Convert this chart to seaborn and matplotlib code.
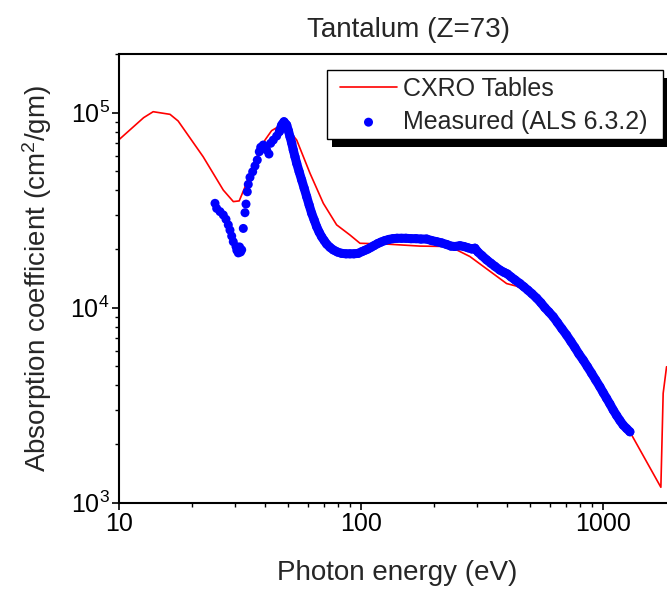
import matplotlib
matplotlib.use("Agg")
import matplotlib.pyplot as plt
import matplotlib.patheffects as pe
import matplotlib.patches as mpatches
import matplotlib.ticker as mticker
import pandas as pd
import seaborn as sns

# CXRO (Henke) table values
cxro_energy = [10.0, 12.6, 13.8, 16.2, 17.5, 22.2, 26.9, 29.6, 31.3, 33.1,
               37.0, 40.0, 42.6, 45.0, 46.9, 50.8, 54.1, 61.4, 69.7, 79.1,
               89.8, 98.8, 127.4, 174.8, 232.5, 281.3, 398.9, 438.7, 482.6,
               621.6, 826.7, 1100.0, 1289.6, 1731.6, 1770.0, 1828.0]
cxro_mu = [7.30e4, 9.43e4, 1.012e5, 9.81e4, 9.07e4, 5.95e4, 4.01e4, 3.50e4, 3.53e4, 4.17e4,
           5.95e4, 7.24e4, 8.09e4, 8.42e4, 8.42e4, 7.99e4, 7.24e4, 4.89e4, 3.43e4, 2.66e4,
           2.36e4, 2.14e4, 2.12e4, 2.07e4, 2.06e4, 1.83e4, 1.33e4, 1.29e4, 1.21e4,
           8.96e3, 5.39e3, 2.99e3, 2.31e3, 1.20e3, 3.64e3, 4.98e3]

# measured points (ALS beamline 6.3.2)
meas_energy = [24.86, 25.26, 26.07, 26.90, 27.60, 28.21, 28.67, 29.14, 29.58, 30.35,
               30.6, 31.03, 31.4, 31.7, 32.05, 32.54, 33.07, 33.39, 33.80, 34.12,
               34.68, 35.58, 36.37, 37.17, 37.89, 38.40, 39.36, 40.65, 41.55, 42.23,
               43.29, 44.71, 45.84, 46.90, 47.93, 49.18, 50.03, 50.75, 51.58, 52.36,
               53.21, 54.09, 55.38, 56.71, 58.08, 59.48, 60.91, 62.37, 63.88, 65.43,
               66.99, 68.61, 70.26, 71.94, 74.25, 76.62, 79.74, 82.99, 86.46, 89.8,
               93.29, 97.18, 100.7, 103.6, 106.6, 109.7, 112.8, 116.7, 120.6, 125.3,
               130.2, 135.2, 140.5, 146.6, 153.0, 160.5, 168.3, 176.5, 186.3, 195.4,
               205.0, 214.9, 225.4, 234.8, 243.9, 255.8, 265.7, 276.0, 286.7, 295.0,
               303.6, 315.4, 329.8, 343.6, 356.9, 374.2, 388.8, 401.9, 415.6, 431.7,
               452.8, 470.3, 488.5, 507.5, 530.7, 552.9, 574.3, 596.6, 621.6, 646.8,
               675.1, 706.0, 735.4, 763.9, 793.6, 826.7, 860.3, 895.4, 931.1, 969.1,
               1000.0, 1032.8, 1065.8, 1100.0, 1136.5, 1172.7, 1209.9, 1249.8, 1289.6]
meas_mu = [3.43e4, 3.23e4, 3.11e4, 2.99e4, 2.84e4, 2.66e4, 2.50e4, 2.33e4, 2.18e4, 2.06e4,
           1.97e4, 1.91e4, 2.05e4, 1.93e4, 1.98e4, 2.55e4, 3.07e4, 3.40e4, 3.93e4, 4.29e4,
           4.66e4, 4.98e4, 5.33e4, 5.72e4, 6.31e4, 6.65e4, 6.83e4, 6.44e4, 6.14e4, 6.97e4,
           7.24e4, 7.59e4, 7.99e4, 8.65e4, 8.99e4, 8.65e4, 8.06e4, 7.53e4, 6.99e4, 6.44e4,
           5.95e4, 5.50e4, 4.98e4, 4.52e4, 4.10e4, 3.71e4, 3.36e4, 3.05e4, 2.82e4, 2.60e4,
           2.44e4, 2.31e4, 2.21e4, 2.12e4, 2.04e4, 1.98e4, 1.93e4, 1.90e4, 1.89e4, 1.89e4,
           1.89e4, 1.90e4, 1.94e4, 1.97e4, 2.00e4, 2.04e4, 2.08e4, 2.13e4, 2.17e4, 2.21e4,
           2.24e4, 2.26e4, 2.27e4, 2.27e4, 2.27e4, 2.26e4, 2.26e4, 2.25e4, 2.25e4, 2.21e4,
           2.18e4, 2.15e4, 2.11e4, 2.07e4, 2.06e4, 2.08e4, 2.06e4, 2.03e4, 2.00e4, 2.02e4,
           1.93e4, 1.85e4, 1.76e4, 1.69e4, 1.63e4, 1.56e4, 1.52e4, 1.49e4, 1.44e4, 1.39e4,
           1.33e4, 1.28e4, 1.23e4, 1.18e4, 1.12e4, 1.06e4, 1.00e4, 9.51e3, 8.99e3, 8.40e3,
           7.80e3, 7.24e3, 6.71e3, 6.25e3, 5.79e3, 5.39e3, 4.99e3, 4.61e3, 4.26e3, 3.93e3,
           3.67e3, 3.43e3, 3.21e3, 2.99e3, 2.80e3, 2.64e3, 2.50e3, 2.40e3, 2.31e3]

cxro = pd.DataFrame({"energy": cxro_energy, "mu": cxro_mu})
meas = pd.DataFrame({"energy": meas_energy, "mu": meas_mu})
# above ~46 eV the scan is so dense the dots merge into a solid band
dense = meas[meas["energy"] >= 45.8]

sns.set_style("ticks")
plt.rcParams["font.family"] = ["Liberation Sans", "DejaVu Sans"]
plt.rcParams["mathtext.fontset"] = "custom"
plt.rcParams["mathtext.rm"] = "Liberation Sans"
plt.rcParams["mathtext.it"] = "Liberation Sans:italic"

fig = plt.figure(figsize=(6.67, 5.89), dpi=100)
# axes run past the right edge of the canvas, like the cropped original
ax = fig.add_axes([0.1789, 0.1465, 0.8346, 0.7618])

sns.lineplot(data=cxro, x="energy", y="mu", sort=False, estimator=None,
             color="#ff0000", linewidth=1.2, label="CXRO Tables", ax=ax, zorder=2)
sns.lineplot(data=dense, x="energy", y="mu", sort=False, estimator=None,
             color="#0000ff", linewidth=6.5, solid_capstyle="round",
             solid_joinstyle="round", legend=False, ax=ax, zorder=3)
sns.scatterplot(data=meas, x="energy", y="mu", color="#0000ff", s=42,
                edgecolor="none", label="Measured (ALS 6.3.2)", ax=ax, zorder=4)

ax.set_xscale("log")
ax.set_yscale("log")
ax.set_xlim(10, 2000)
ax.set_ylim(1e3, 2e5)
ax.xaxis.set_major_formatter(mticker.FuncFormatter(lambda v, p: "{0:g}".format(v)))
ax.xaxis.set_minor_formatter(mticker.NullFormatter())
ax.yaxis.set_minor_formatter(mticker.NullFormatter())

for side in ("left", "bottom", "top"):
    ax.spines[side].set_linewidth(1.5)
    ax.spines[side].set_color("black")
ax.spines["right"].set_visible(False)
ax.tick_params(which="major", direction="out", length=5, width=1.2, labelsize=18,
               colors="black", pad=2)
ax.tick_params(which="minor", direction="out", length=3, width=1.0, colors="black")
ax.tick_params(top=False, right=False, which="both")

ax.set_xlabel("Photon energy (eV)", fontsize=20, labelpad=17)
ax.set_ylabel("Absorption coefficient (cm$^2$/gm)", fontsize=20, labelpad=12)
ax.set_title("Tantalum (Z=73)", fontsize=20, x=0.52, pad=12)

# legend: square white box with a solid black drop shadow
handles, labels = ax.get_legend_handles_labels()
ax.get_legend().remove()
box = mpatches.Rectangle((327 / 667, 1 - 139 / 589), 336 / 667, 69 / 589,
                         transform=fig.transFigure, facecolor="white",
                         edgecolor="black", linewidth=1.0, zorder=5)
box.set_path_effects([
    pe.withSimplePatchShadow(offset=(3.6, -5.8), shadow_rgbFace="black", alpha=1.0)
])
fig.add_artist(box)
leg = fig.legend(handles, labels, loc="upper left",
                 bbox_to_anchor=(340 / 667, 1 - 77 / 589), frameon=False,
                 borderpad=0, borderaxespad=0, fontsize=18, handlelength=2.28,
                 handletextpad=0.24, labelspacing=0.35)
leg.set_zorder(6)

fig.savefig("out.png", dpi=100)
